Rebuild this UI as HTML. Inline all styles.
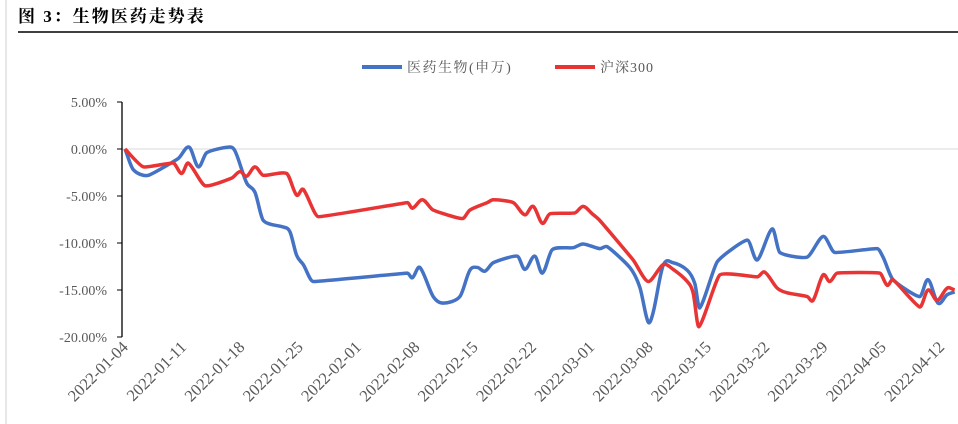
<!DOCTYPE html>
<html><head><meta charset="utf-8"><style>
body{margin:0;background:#fff;width:958px;height:424px;overflow:hidden}
svg{display:block}
</style></head><body>
<svg id="c" width="958" height="424" xmlns="http://www.w3.org/2000/svg">
<line x1="6" y1="0" x2="6" y2="424" stroke="#d0d0d0"/>
<text x="18" y="22" font-family="'Liberation Serif','Noto Serif CJK SC',serif" font-weight="bold" font-size="17" letter-spacing="2" fill="#000">图 3：生物医药走势表</text>
<line x1="18" y1="32" x2="958" y2="32" stroke="#000" stroke-width="1.5"/>
<g>
<line x1="362" y1="67" x2="402" y2="67" stroke="#4472C4" stroke-width="4"/>
<text x="407" y="72" font-family="'Liberation Serif','Noto Serif CJK SC',serif" font-size="14" letter-spacing="1.5" fill="#595959">医药生物(申万)</text>
<line x1="555" y1="67" x2="595" y2="67" stroke="#E83434" stroke-width="4"/>
<text x="600" y="72" font-family="'Liberation Serif','Noto Serif CJK SC',serif" font-size="14" letter-spacing="1" fill="#595959">沪深300</text>
</g>
<g id="axes"></g>
<g id="series"></g>
</svg>
<script>
const tickLabels=["2022-01-04","2022-01-11","2022-01-18","2022-01-25","2022-02-01","2022-02-08","2022-02-15","2022-02-22","2022-03-01","2022-03-08","2022-03-15","2022-03-22","2022-03-29","2022-04-05","2022-04-12"];
const yTicks=[5,0,-5,-10,-15,-20];
const bioDays=[0,1.0,2.8,6.4,7.7,8.8,9.8,12.4,13.2,14.6,15.6,16.6,19.0,19.8,20.6,21.4,22.6,33.9,34.5,35.4,37.0,38.2,40.2,41.4,42.3,43.2,44.2,47.1,48.0,49.2,50.1,51.3,53.8,55.0,57.0,57.9,60.6,61.8,62.8,63.4,64.6,65.8,67.5,68.4,69.0,71.1,74.7,75.9,77.7,78.6,81.9,83.8,85.2,90.3,91.0,92.2,95.4,96.4,97.6,98.7,99.6];
const bioVals=[0,-2.2,-2.8,-1.0,0.2,-1.9,-0.4,0.2,-0.2,-3.6,-4.6,-7.6,-8.3,-8.8,-11.3,-12.3,-14.1,-13.2,-13.7,-12.6,-15.7,-16.4,-15.7,-12.9,-12.6,-13.0,-12.1,-11.4,-12.8,-11.4,-13.2,-10.7,-10.5,-10.1,-10.6,-10.4,-12.6,-14.7,-18.4,-17.4,-12.4,-12.1,-12.9,-14.3,-16.9,-12.0,-9.7,-11.8,-8.5,-11.0,-11.5,-9.3,-11.0,-10.6,-11.5,-13.9,-15.7,-13.9,-16.4,-15.5,-15.2];
const hsDays=[0,2.2,5.8,6.8,7.6,9.6,12.8,13.8,14.6,15.6,16.6,19.4,20.6,21.4,23.2,33.9,34.5,35.7,37.0,40.5,41.4,43.5,44.2,46.6,48.0,49.0,50.1,51.0,54.0,55.0,56.1,57.0,61.0,62.8,64.6,65.8,67.5,68.2,68.9,71.4,75.9,76.8,78.3,79.5,81.9,82.6,83.8,84.6,85.5,90.6,91.5,92.2,95.4,96.4,97.5,98.7,99.6];
const hsVals=[0,-1.9,-1.5,-2.6,-1.5,-3.9,-3.1,-2.4,-2.9,-1.9,-2.8,-2.6,-4.9,-4.3,-7.2,-5.7,-6.3,-5.4,-6.5,-7.4,-6.5,-5.7,-5.4,-5.7,-7.0,-6.1,-7.9,-6.9,-6.8,-6.1,-6.9,-7.6,-11.8,-14.1,-12.3,-12.8,-14.1,-15.3,-18.9,-13.4,-13.6,-13.1,-14.8,-15.3,-15.7,-16.1,-13.4,-14.1,-13.2,-13.2,-14.5,-13.9,-16.8,-15.0,-16.1,-14.8,-15.0];

const X=d=>125+d*8.33;
const Y=v=>149-v*9.4;
const NS="http://www.w3.org/2000/svg";
const axes=document.getElementById('axes'), ser=document.getElementById('series');
function mk(t,a,p){const e=document.createElementNS(NS,t);for(const k in a)e.setAttribute(k,a[k]);p.appendChild(e);return e;}
const font="'Liberation Serif',serif";
const zl=mk('line',{x1:122,y1:Y(0),x2:958,y2:Y(0),stroke:'#d9d9d9','stroke-width':1},axes);


const ya=mk('line',{x1:122,y1:Y(5),x2:122,y2:Y(-20),stroke:'#000','stroke-width':1.3},axes);


yTicks.forEach(v=>{
  const t=mk('line',{x1:117,y1:Y(v),x2:122,y2:Y(v),stroke:'#000'},axes);
  
  
  const l=mk('text',{x:107,y:Y(v)+5,'text-anchor':'end','font-family':font,'font-size':14,fill:'#595959'},axes);
  l.textContent=v.toFixed(2)+'%';
  
  
});
tickLabels.forEach((s,i)=>{
  const x=X(i*7)+4,y=348;
  const l=mk('text',{x:x,y:y,'text-anchor':'end','font-family':font,'font-size':16.5,fill:'#595959',transform:`rotate(-45 ${x} ${y})`},axes);
  l.textContent=s;
  
  
});
function path(ds,vs){
  const p=ds.map((d,i)=>[X(d),Y(vs[i])]);
  const n=p.length;
  const m=p.map((q,i)=>{
    const a=p[Math.max(i-1,0)],b=p[Math.min(i+1,n-1)];
    return (b[1]-a[1])/(b[0]-a[0]);
  });
  let s=`M${p[0][0]},${p[0][1]}`;
  for(let i=0;i<n-1;i++){
    const p1=p[i],p2=p[i+1],h=(p2[0]-p1[0])/3;
    const hh=Math.min(h,4);
    s+=`C${p1[0]+hh},${p1[1]+m[i]*hh} ${p2[0]-hh},${p2[1]-m[i+1]*hh} ${p2[0]},${p2[1]}`;
  }
  return s;
}
const pb=mk('path',{d:path(bioDays,bioVals),fill:'none',stroke:'#4472C4','stroke-width':3.5,'stroke-linejoin':'round'},ser);


const ph=mk('path',{d:path(hsDays,hsVals),fill:'none',stroke:'#E83434','stroke-width':3.5,'stroke-linejoin':'round'},ser);


</script>
</body></html>
